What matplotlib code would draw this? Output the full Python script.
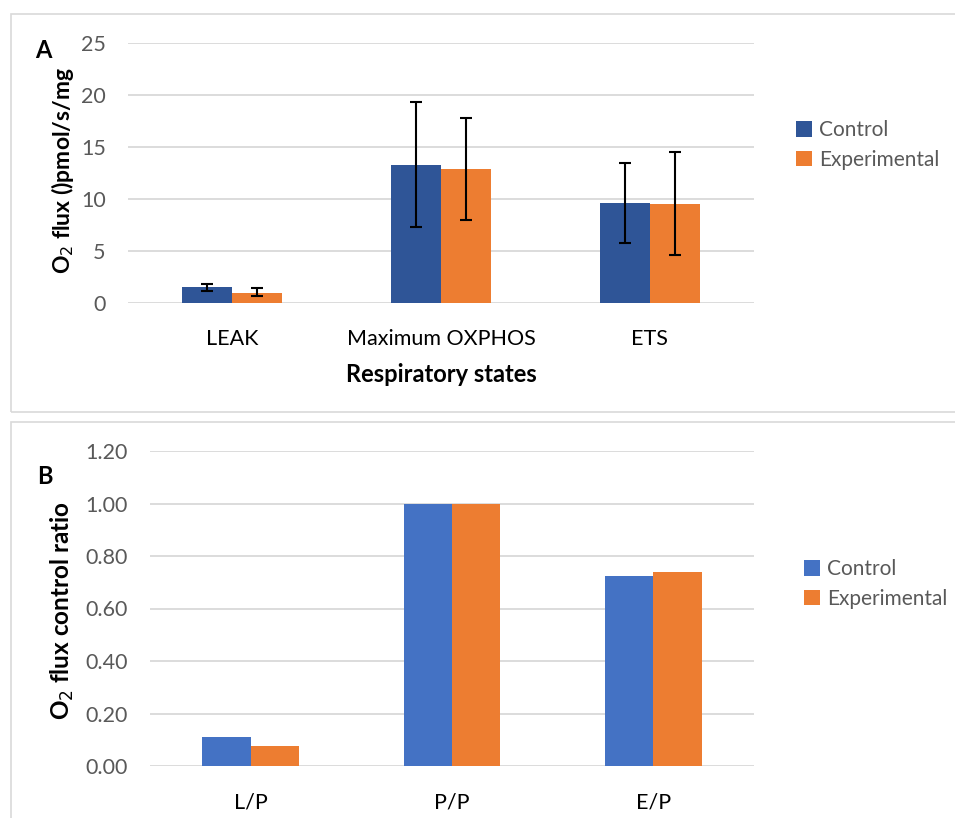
import numpy as np
import matplotlib
matplotlib.use("Agg")
import matplotlib.pyplot as plt
from matplotlib.patches import Rectangle

plt.rcParams['font.family'] = ['Lato', 'DejaVu Sans']

# panel A data
states = ['LEAK', 'Maximum OXPHOS', 'ETS']
ctrl_flux = [1.5, 13.3, 9.6]
exp_flux = [1.0, 12.9, 9.5]
ctrl_lo = [1.2, 7.3, 5.8]
ctrl_hi = [1.8, 19.3, 13.5]
exp_lo = [0.7, 8.0, 4.6]
exp_hi = [1.4, 17.8, 14.5]

# panel B data
ratios = ['L/P', 'P/P', 'E/P']
ctrl_ratio = [0.11, 1.00, 0.725]
exp_ratio = [0.077, 1.00, 0.74]

W, H = 955, 818
fig = plt.figure(figsize=(W / 100, H / 100), dpi=100)

def px_axes(x0, y0, x1, y1):
    # pixel box (top-left origin) -> figure fraction
    return fig.add_axes([x0 / W, 1 - y1 / H, (x1 - x0) / W, (y1 - y0) / H])

grid_c = '#D9D9D9'
tick_c = '#595959'

# panel frames
fig.patches.append(Rectangle((11 / W, 1 - 412 / H), 960 / W, 398 / H,
                             transform=fig.transFigure, fill=False,
                             edgecolor=grid_c, lw=1.2))
fig.patches.append(Rectangle((11 / W, 1 - 830 / H), 960 / W, 408 / H,
                             transform=fig.transFigure, fill=False,
                             edgecolor=grid_c, lw=1.2))

def style(ax):
    for s in ax.spines.values():
        s.set_visible(False)
    ax.yaxis.grid(True, color=grid_c, lw=1.3)
    ax.set_axisbelow(True)
    ax.tick_params(axis='both', length=0, labelsize=15.5)
    ax.tick_params(axis='y', colors=tick_c, pad=16)
    ax.tick_params(axis='x', labelcolor='black', pad=19)

def px_x(ax, px):
    # pixel x -> axes fraction
    b = ax.get_position()
    return (px / W - b.x0) / b.width

def px_y(ax, py):
    b = ax.get_position()
    return ((1 - py / H) - b.y0) / b.height

w = 0.24
x = np.arange(len(states))
leg_kw = dict(loc='center left', frameon=False, fontsize=15,
              handlelength=0.75, handleheight=0.75, handletextpad=0.35,
              labelspacing=0.45, labelcolor=tick_c, borderaxespad=0)

# ---- panel A
axA = px_axes(128, 43, 754, 303)
ctrl_err = [np.subtract(ctrl_flux, ctrl_lo), np.subtract(ctrl_hi, ctrl_flux)]
exp_err = [np.subtract(exp_flux, exp_lo), np.subtract(exp_hi, exp_flux)]
axA.bar(x - w / 2, ctrl_flux, w, color='#2F5597', label='Control',
        yerr=ctrl_err, error_kw=dict(ecolor='black', elinewidth=1.5, capsize=4.5, capthick=1.5))
axA.bar(x + w / 2, exp_flux, w, color='#ED7D31', label='Experimental',
        yerr=exp_err, error_kw=dict(ecolor='black', elinewidth=1.5, capsize=4.5, capthick=1.5))
axA.set_xlim(-0.5, 2.5)
axA.set_ylim(0, 25)
axA.set_yticks(np.arange(0, 26, 5))
axA.set_xticks(x)
axA.set_xticklabels(states)
style(axA)
axA.set_xlabel('Respiratory states', fontsize=17, fontweight='bold')
axA.xaxis.set_label_coords(0.5, px_y(axA, 374), transform=axA.transAxes)
axA.xaxis.label.set_va('center')
axA.set_ylabel('O$_2$ flux ()pmol/s/mg', fontsize=16.5, fontweight='bold')
axA.yaxis.set_label_coords(px_x(axA, 62), px_y(axA, 170))
axA.yaxis.label.set_va('center')
axA.legend(bbox_to_anchor=(px_x(axA, 788), px_y(axA, 145)), **leg_kw)
fig.text(35 / W, 1 - 51 / H, 'A', fontsize=17, fontweight='bold', va='center')

# ---- panel B
axB = px_axes(150, 451, 754, 766)
xb = np.arange(len(ratios))
axB.bar(xb - w / 2, ctrl_ratio, w, color='#4472C4', label='Control')
axB.bar(xb + w / 2, exp_ratio, w, color='#ED7D31', label='Experimental')
axB.set_xlim(-0.5, 2.5)
axB.set_ylim(0, 1.2)
axB.set_yticks(np.arange(0, 1.21, 0.2))
axB.set_yticklabels(['%.2f' % v for v in np.arange(0, 1.21, 0.2)])
axB.set_xticks(xb)
axB.set_xticklabels(ratios)
style(axB)
axB.set_ylabel('O$_2$ flux control ratio', fontsize=17.5, fontweight='bold')
axB.yaxis.set_label_coords(px_x(axB, 62), px_y(axB, 610))
axB.yaxis.label.set_va('center')
axB.legend(bbox_to_anchor=(px_x(axB, 796), px_y(axB, 584)), **leg_kw)
fig.text(37 / W, 1 - 476 / H, 'B', fontsize=17, fontweight='bold', va='center')

fig.savefig('out.png', dpi=100)
